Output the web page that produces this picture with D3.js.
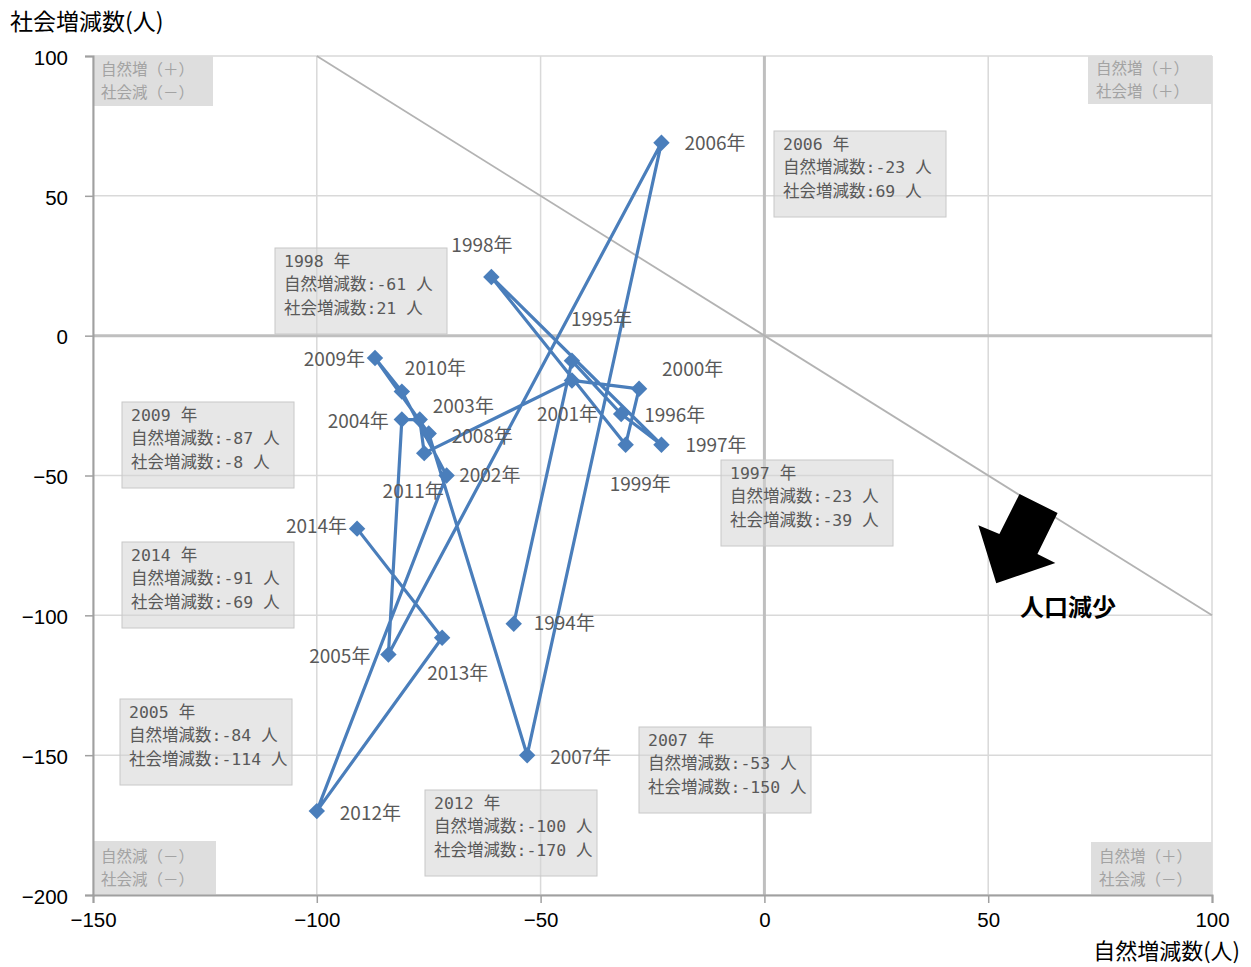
<!DOCTYPE html>
<html>
<head>
<meta charset="utf-8">
<script src="https://cdn.jsdelivr.net/npm/d3@7"></script>
<style>
  body { margin: 0; background: #fff; }
  svg { display: block; }
  text { font-family: "Noto Sans CJK JP", "Noto Sans", sans-serif; }
  .tick text { font-family: "Liberation Sans", Arial, sans-serif; }
  .mono { font-family: "DejaVu Sans Mono", "Noto Sans CJK JP", monospace; }
</style>
</head>
<body>
<svg width="1251" height="967"></svg>
<script>
// 年ごとの自然増減数 (x) と社会増減数 (y)
var years   = [1994, 1995, 1996, 1997, 1998, 1999, 2000, 2001, 2002, 2003, 2004,
               2005, 2006, 2007, 2008, 2009, 2010, 2011, 2012, 2013, 2014];
var natural = [-56, -43, -32, -23, -61, -31, -28, -43, -76, -77, -81,
               -84, -23, -53, -75, -87, -81, -71, -100, -72, -91];
var social  = [-103, -9, -28, -39, 21, -39, -19, -16, -42, -30, -30,
               -114, 69, -150, -35, -8, -20, -50, -170, -108, -69];

var xTicks = [-150, -100, -50, 0, 50, 100];
var yTicks = [-200, -150, -100, -50, 0, 50, 100];

var calloutYears = [2006, 1998, 2009, 1997, 2014, 2005, 2007, 2012];
var quadrants = [
  ["自然増（＋）", "社会減（－）"],
  ["自然増（＋）", "社会増（＋）"],
  ["自然減（－）", "社会減（－）"],
  ["自然増（＋）", "社会減（－）"]
];

// ラベル位置の調整 (px, 点からのずれ)
var labelPos = {
  1994: [20, 0, "start"],  1995: [-1, -41, "start"], 1996: [23, 1, "start"],
  1997: [24, 1, "start"],  1998: [-40, -32, "start"], 1999: [-16, 40, "start"],
  2000: [23, -19, "start"], 2001: [-35, 34, "start"], 2002: [35, 22, "start"],
  2003: [13, -13, "start"], 2004: [-13, 2, "end"],    2005: [-18, 2, "end"],
  2006: [23, 1, "start"],  2007: [23, 2, "start"],   2008: [23, 3, "start"],
  2009: [-10, 1, "end"],   2010: [3, -23, "start"],  2011: [-64, 16, "start"],
  2012: [23, 2, "start"],  2013: [-15, 36, "start"], 2014: [-10, -2, "end"]
};
var calloutPos = {
  2006: [774, 131], 1998: [275, 248], 2009: [122, 402], 1997: [721, 460],
  2014: [122, 542], 2005: [120, 699], 2007: [639, 727], 2012: [425, 790]
};

var svg = d3.select("svg"),
    margin = {top: 56, right: 39, bottom: 72, left: 93},
    width = +svg.attr("width"),
    height = +svg.attr("height");

var x = d3.scaleLinear().domain([-150, 100]).range([margin.left, width - margin.right]);
var y = d3.scaleLinear().domain([-200, 100]).range([height - margin.bottom, margin.top]);

var data = years.map(function(yr, i) { return {year: yr, x: natural[i], y: social[i]}; });

// grid
var grid = svg.append("g");
grid.selectAll(".gx").data(xTicks).enter().append("line")
    .attr("x1", function(d) { return x(d); }).attr("x2", function(d) { return x(d); })
    .attr("y1", y(-200)).attr("y2", y(100))
    .attr("stroke", "#d9d9d9").attr("stroke-width", 1.5);
grid.selectAll(".gy").data(yTicks).enter().append("line")
    .attr("y1", function(d) { return y(d); }).attr("y2", function(d) { return y(d); })
    .attr("x1", x(-150)).attr("x2", x(100))
    .attr("stroke", "#d9d9d9").attr("stroke-width", 1.5);

// zero lines and diagonal (x + y = 0)
svg.append("line").attr("x1", x(0)).attr("x2", x(0)).attr("y1", y(-200)).attr("y2", y(100))
    .attr("stroke", "#bfbfbf").attr("stroke-width", 3);
svg.append("line").attr("x1", x(-150)).attr("x2", x(100)).attr("y1", y(0)).attr("y2", y(0))
    .attr("stroke", "#bfbfbf").attr("stroke-width", 3);
svg.append("line").attr("x1", x(-100)).attr("y1", y(100)).attr("x2", x(100)).attr("y2", y(-100))
    .attr("stroke", "#b3b3b3").attr("stroke-width", 1.8);

// corner boxes
var qBox = [
  {x: x(-150), y: y(100), w: 120, h: 50},
  {x: x(100) - 124, y: y(100), w: 124, h: 48},
  {x: x(-150), y: y(-200) - 54, w: 123, h: 54},
  {x: x(100) - 121, y: y(-200) - 53, w: 121, h: 53}
];
var qg = svg.append("g").selectAll("g").data(quadrants).enter().append("g")
    .attr("transform", function(d, i) { return "translate(" + qBox[i].x + "," + qBox[i].y + ")"; });
qg.append("rect")
    .attr("width", function(d, i) { return qBox[i].w; })
    .attr("height", function(d, i) { return qBox[i].h; })
    .attr("fill", "#dedede");
qg.each(function(d, i) {
  d3.select(this).selectAll("text").data(d).enter().append("text")
      .attr("x", 8)
      .attr("y", function(t, j) { return qBox[i].h / 2 - 11.5 + j * 23; })
      .attr("dy", "0.35em")
      .attr("fill", "#a3a3a3").style("font-size", "15.5px")
      .text(function(t) { return t; });
});

// axes
var fmt = function(d) { return d < 0 ? "\u2212" + Math.abs(d) : d; };
var xAxis = svg.append("g").attr("transform", "translate(0," + y(-200) + ")")
    .call(d3.axisBottom(x).tickValues(xTicks).tickSize(8).tickPadding(9).tickFormat(fmt));
var yAxis = svg.append("g").attr("transform", "translate(" + x(-150) + ",0)")
    .call(d3.axisLeft(y).tickValues(yTicks).tickSize(8).tickPadding(17).tickFormat(fmt));
[xAxis, yAxis].forEach(function(a) {
  a.select(".domain").attr("stroke", "#a0a0a0").attr("stroke-width", 2);
  a.selectAll(".tick line").attr("stroke", "#a0a0a0").attr("stroke-width", 1.5);
  a.selectAll(".tick text").attr("fill", "#000").style("font-size", "20.5px");
});
yAxis.selectAll(".tick text").attr("dy", "0.4em");

svg.append("text").attr("x", 10).attr("y", 22).attr("dy", "0.35em")
    .style("font-size", "23px").attr("fill", "#000").text("社会増減数(人)");
svg.append("text").attr("x", 1240).attr("y", 951).attr("dy", "0.35em")
    .attr("text-anchor", "end")
    .style("font-size", "22px").attr("fill", "#000").text("自然増減数(人)");

// series line
var line = d3.line().x(function(d) { return x(d.x); }).y(function(d) { return y(d.y); });
svg.append("path").datum(data).attr("d", line)
    .attr("fill", "none").attr("stroke", "#4a7ebb").attr("stroke-width", 3.2)
    .attr("stroke-linejoin", "round");

svg.append("g").selectAll("path").data(data).enter().append("path")
    .attr("d", d3.symbol(d3.symbolSquare, 135))
    .attr("transform", function(d) { return "translate(" + x(d.x) + "," + y(d.y) + ") rotate(45)"; })
    .attr("fill", "#4a7ebb");

// data labels
svg.append("g").selectAll("text").data(data).enter().append("text")
    .attr("x", function(d) { return x(d.x) + labelPos[d.year][0]; })
    .attr("y", function(d) { return y(d.y) + labelPos[d.year][1]; })
    .attr("dy", "0.35em")
    .attr("text-anchor", function(d) { return labelPos[d.year][2]; })
    .attr("fill", "#595959").style("font-size", "19px")
    .text(function(d) { return d.year + "年"; });

// callout boxes
var callouts = data.filter(function(d) { return calloutYears.indexOf(d.year) >= 0; });
var cg = svg.append("g").selectAll("g").data(callouts).enter().append("g")
    .attr("transform", function(d) { return "translate(" + calloutPos[d.year][0] + "," + calloutPos[d.year][1] + ")"; });
cg.append("rect").attr("width", 172).attr("height", 86)
    .attr("fill", "#d4d4d4").attr("fill-opacity", 0.55)
    .attr("stroke", "#c8c8c8").attr("stroke-width", 1);
cg.selectAll("text").data(function(d) {
      return [d.year + " 年", "自然増減数:" + d.x + " 人", "社会増減数:" + d.y + " 人"];
    }).enter().append("text")
    .attr("class", "mono")
    .attr("x", 9).attr("y", function(d, j) { return 13 + j * 23.5; })
    .attr("dy", "0.35em")
    .attr("fill", "#595959").style("font-size", "16.5px")
    .text(function(d) { return d; });

// 人口減少 arrow (in data units)
var arrow = [[57.0, -56.6], [65.5, -63.4], [61.0, -78.1], [65.0, -81.3],
             [51.8, -88.5], [47.8, -67.8], [52.5, -70.9]];
svg.append("polygon")
    .attr("points", arrow.map(function(p) { return x(p[0]) + "," + y(p[1]); }).join(" "))
    .attr("fill", "#000");
svg.append("text").attr("x", 1068).attr("y", 608).attr("dy", "0.35em")
    .attr("text-anchor", "middle").style("font-size", "24px").style("font-weight", "bold")
    .attr("fill", "#000").text("人口減少");
</script>
</body>
</html>
